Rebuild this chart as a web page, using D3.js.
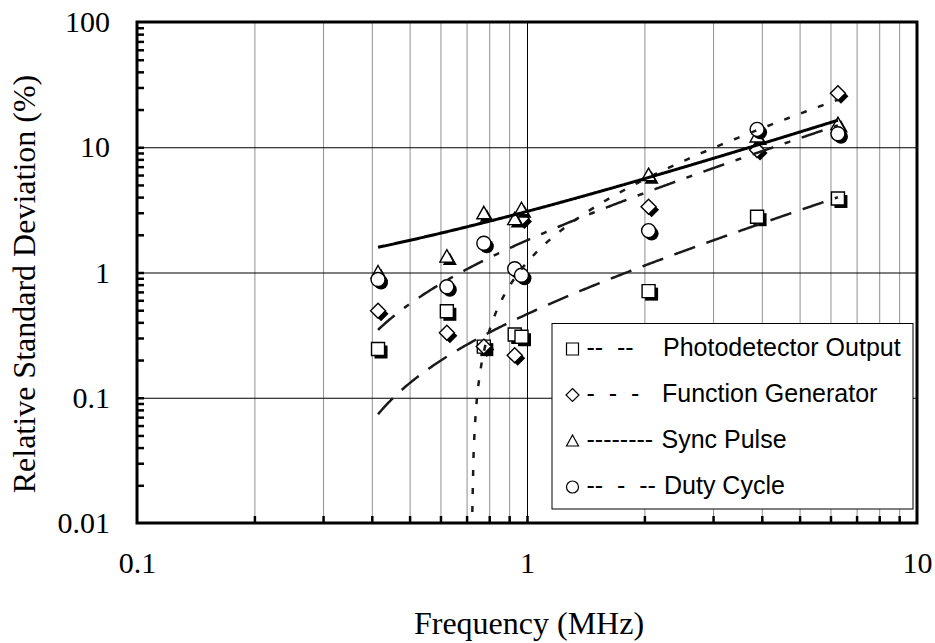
<!DOCTYPE html>
<html><head><meta charset="utf-8">
<script src="https://cdn.jsdelivr.net/npm/d3@7"></script>
<style>body{margin:0;background:#fff} svg{display:block}</style>
</head><body><svg id="chart" width="935" height="643"></svg>
<script>
// ---- data ----
const frequency = [0.415, 0.623, 0.775, 0.93, 0.968, 2.05, 3.89, 6.27];
const photodetectorOutput = [0.245, 0.49, 0.256, 0.32, 0.307, 0.71, 2.79, 3.9];
const functionGenerator = [0.496, 0.33, 0.256, 0.218, 2.7, 3.35, 9.5, 27];
const syncPulse = [1.0, 1.34, 2.97, 2.67, 3.2, 5.99, 12.2, 15.3];
const dutyCycle = [0.88, 0.77, 1.71, 1.07, 0.95, 2.16, 13.9, 12.8];
const seriesNames = ["Photodetector Output", "Function Generator", "Sync Pulse", "Duty Cycle"];
const legendDashes = ["--  --", "-  -  -", "--------", "--  -  --"];
const xTickLabels = ["0.1", "1", "10"];
const yTickLabels = ["0.01", "0.1", "1", "10", "100"];
const xTitle = "Frequency (MHz)";
const yTitle = "Relative Standard Deviation (%)";

// ---- layout ----
const L = 137, R = 917, T = 22, B = 523;
const svg = d3.select("#chart");
const x = d3.scaleLog().domain([0.1, 10]).range([L, R]);
const y = d3.scaleLog().domain([0.01, 100]).range([B, T]);
const serif = "'Times New Roman','Liberation Serif',serif";
const sans = "Arial,'Liberation Sans',sans-serif";

const xMajor = [0.1, 1, 10], yMajor = [0.01, 0.1, 1, 10, 100];
const xAll = x.ticks(), yAll = y.ticks();
const isMajor = v => Math.abs(Math.log10(v) - Math.round(Math.log10(v))) < 1e-9;

// vertical gridlines
const gx = svg.append("g").attr("transform", `translate(0,${B})`)
  .call(d3.axisBottom(x).tickValues(xAll.filter(v => v > 0.1 && v < 10)).tickSize(-(B - T)).tickFormat(""));
gx.select(".domain").remove();
gx.selectAll(".tick line").attr("stroke", d => isMajor(d) ? "#000" : "#909090").attr("stroke-width", 1);

// horizontal gridlines
const gy = svg.append("g").attr("transform", `translate(${L},0)`)
  .call(d3.axisLeft(y).tickValues([0.1, 1, 10]).tickSize(-(R - L)).tickFormat(""));
gy.select(".domain").remove();
gy.selectAll(".tick line").attr("stroke", "#000").attr("stroke-width", 1);

// inward minor ticks
const tx = svg.append("g").attr("transform", `translate(0,${B})`)
  .call(d3.axisBottom(x).tickValues(xAll.filter(v => v > 0.1 && v < 10)).tickSize(-7).tickFormat(""));
tx.select(".domain").remove();
tx.selectAll(".tick line").attr("stroke", "#000").attr("stroke-width", 2.5);
const ty = svg.append("g").attr("transform", `translate(${L},0)`)
  .call(d3.axisLeft(y).tickValues(yAll.filter(v => v > 0.01 && v < 100)).tickSize(-7).tickFormat(""));
ty.select(".domain").remove();
ty.selectAll(".tick line").attr("stroke", "#000").attr("stroke-width", 2.5);

// tick labels
const lx = svg.append("g").attr("transform", `translate(0,${B})`)
  .call(d3.axisBottom(x).tickValues(xMajor).tickSize(0).tickPadding(29).tickFormat((d, i) => xTickLabels[i]));
lx.select(".domain").remove();
lx.attr("font-family", serif).attr("font-size", 30);
lx.selectAll("text").attr("fill", "#000");
const ly = svg.append("g").attr("transform", `translate(${L},0)`)
  .call(d3.axisLeft(y).tickValues(yMajor).tickSize(0).tickPadding(27).tickFormat((d, i) => yTickLabels[i]));
ly.select(".domain").remove();
ly.attr("font-family", serif).attr("font-size", 30);
ly.selectAll("text").attr("fill", "#000");

// axis titles
svg.append("text").attr("x", 529).attr("y", 634).attr("text-anchor", "middle")
  .attr("font-family", serif).attr("font-size", 32).text(xTitle);
svg.append("text").attr("transform", "translate(35,284) rotate(-90)").attr("text-anchor", "middle")
  .attr("font-family", serif).attr("font-size", 32).text(yTitle);

// markers
const shapes = [
  "M-6.5,-6.5h13v13h-13z",
  "M0,-7.5L7.5,0L0,7.5L-7.5,0Z",
  "M0,-7L7,5.5L-7,5.5Z",
  "M7,0A7,7 0 1,1 -7,0A7,7 0 1,1 7,0Z"
];
const seriesValues = [photodetectorOutput, functionGenerator, syncPulse, dutyCycle];
const plot = svg.append("g");
seriesValues.forEach((vals, s) => {
  const pts = frequency.map((f, i) => [f, vals[i]]);
  const g = plot.append("g");
  g.selectAll("path.sh").data(pts).join("path").attr("class", "sh")
    .attr("d", shapes[s]).attr("fill", "#000")
    .attr("transform", d => `translate(${x(d[0]) + 3},${y(d[1]) + 3})`);
  g.selectAll("path.mk").data(pts).join("path").attr("class", "mk")
    .attr("d", shapes[s]).attr("fill", "#fff").attr("stroke", "#000").attr("stroke-width", 1.4)
    .attr("transform", d => `translate(${x(d[0])},${y(d[1])})`);
});

// linear trend lines (least squares of each series, as in the source chart)
svg.append("clipPath").attr("id", "clip").append("rect")
  .attr("x", L).attr("y", T).attr("width", R - L).attr("height", B - T);
const lineStyles = [
  {dash: "22,12", w: 2.5, c: "#1a1a1a"},
  {dash: "6,12", w: 2.5, c: "#1a1a1a"},
  {dash: null, w: 3, c: "#000"},
  {dash: "22,12,6,12", w: 2.5, c: "#1a1a1a"}
];
const tl = svg.append("g").attr("clip-path", "url(#clip)");
seriesValues.forEach((vals, s) => {
  const mx = d3.mean(frequency), my = d3.mean(vals);
  let sxy = 0, sxx = 0;
  frequency.forEach((f, i) => { sxy += (f - mx) * (vals[i] - my); sxx += (f - mx) * (f - mx); });
  const b = sxy / sxx, a = my - b * mx;
  const x0 = d3.min(frequency), x1 = d3.max(frequency);
  const samples = d3.range(0, 401).map(k => x0 * Math.pow(x1 / x0, k / 400))
    .map(f => [f, a + b * f]).filter(d => d[1] > 0.003);
  const st = lineStyles[s];
  tl.append("path").datum(samples)
    .attr("d", d3.line().x(d => x(d[0])).y(d => y(d[1])))
    .attr("fill", "none").attr("stroke", st.c).attr("stroke-width", st.w)
    .attr("stroke-dasharray", st.dash);
});

// plot border
svg.append("rect").attr("x", L).attr("y", T).attr("width", R - L).attr("height", B - T)
  .attr("fill", "none").attr("stroke", "#000").attr("stroke-width", 3);

// legend
const lg = svg.append("g");
lg.append("rect").attr("x", 552).attr("y", 323.5).attr("width", 361).attr("height", 185.5)
  .attr("fill", "#fff").attr("stroke", "#000").attr("stroke-width", 1);
const smallShapes = [
  "M-6,-6h12v12h-12z",
  "M0,-6.5L6.5,0L0,6.5L-6.5,0Z",
  "M0,-6L6,5L-6,5Z",
  "M6,0A6,6 0 1,1 -6,0A6,6 0 1,1 6,0Z"
];
const labelX = [663, 662, 661.5, 664];
seriesNames.forEach((name, i) => {
  const base = 356 + i * 46;
  lg.append("path").attr("d", smallShapes[i]).attr("fill", "#fff").attr("stroke", "#000").attr("stroke-width", 1.2)
    .attr("transform", `translate(572.5,${base - 7})`);
  lg.append("text").attr("x", 586.5).attr("y", base).attr("font-family", sans).attr("font-size", 25)
    .style("white-space", "pre").text(legendDashes[i]);
  lg.append("text").attr("x", labelX[i]).attr("y", base).attr("font-family", sans).attr("font-size", 25)
    .text(name);
});
</script></body></html>
